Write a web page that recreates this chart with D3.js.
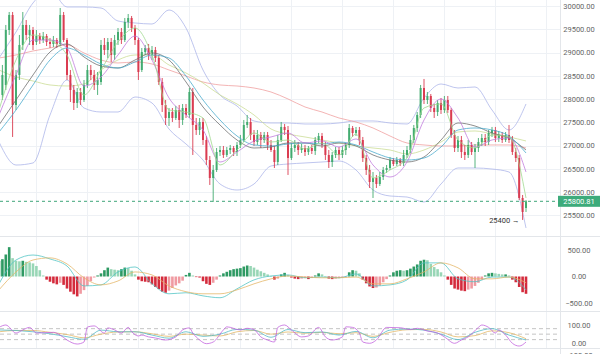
<!DOCTYPE html>
<html>
<head>
<meta charset="utf-8">
<script src="https://cdn.jsdelivr.net/npm/d3@7"></script>
<style>
  body { margin: 0; background: #fff; }
  #chart svg { display: block; font-family: Roboto, "Open Sans", sans-serif; }
</style>
</head>
<body>
<div id="chart"></div>
<script>
// canvas + panels
var svgWidth = 600;
var svgHeight = 354;
var plotRight = 560;

// ---- data ----
// candles [open, high, low, close]
var ohlc = [
  [27549,28517,27442,28194],[28087,28732,27979,28517],[28302,29592,28194,29484],[29484,29871,29377,29807],[29807,29871,27184,27872],
  [27872,28624,27764,28517],[28517,29377,28409,29162],[29162,29871,29054,29592],[29592,29699,29269,29377],[29377,29592,29162,29484],
  [29484,29549,29054,29162],[29226,29484,29162,29355],[29355,29420,29183,29269],[29269,29441,29205,29355],[29355,29398,29140,29226],
  [29226,29312,29097,29183],[29183,29355,29119,29269],[29269,29312,29097,29183],[29183,29957,29140,29807],[29807,29871,29226,29269],
  [29269,29312,28409,28517],[28517,28624,27936,28194],[28194,28302,27764,27915],[27915,28237,27807,28151],[28151,28237,27872,27979],
  [27979,28409,27936,28302],[28302,28732,28237,28624],[28624,28732,28409,28517],[28517,28624,28194,28302],[28302,28581,28087,28409],
  [28366,29269,28302,29162],[29162,29312,28947,29054],[29054,29312,28882,29226],[29226,29312,28796,28947],[28947,29377,28839,29269],
  [29269,29527,29162,29441],[29441,29527,29183,29269],[29269,29742,29226,29656],[29656,29828,29527,29742],[29742,29785,29441,29527],
  [29527,29592,29162,29269],[29269,29312,28409,28581],[28624,29097,28581,29011],[29011,29162,28947,29097],[29097,29183,28839,28947],
  [28947,29140,28839,29054],[29054,29119,28796,28882],[28882,28947,28302,28366],[28366,28452,27721,27872],[27872,27979,27442,27592],
  [27592,27807,27420,27721],[27721,27807,27506,27592],[27592,27850,27549,27764],[27764,27872,27377,27549],[27549,27893,27442,27807],
  [27807,27893,27592,27657],[27657,28237,27592,28151],[28151,28237,26797,27442],[27442,27592,27227,27334],[27334,27592,27227,27506],
  [27506,27592,27012,27119],[27119,27205,26582,26689],[26689,26775,26152,26302],[26302,26582,25786,26474],[26474,26947,26431,26861],
  [26861,26990,26775,26904],[26904,26990,26732,26797],[26797,26969,26754,26904],[26904,27012,26818,26947],[26947,26990,26775,26861],
  [26861,27076,26775,27012],[27012,27227,26947,27119],[27119,27549,27076,27442],[27442,27657,27377,27506],[27506,27592,27119,27227],
  [27227,27334,26990,27076],[27076,27334,27012,27227],[27227,27291,26947,27119],[27119,27291,27055,27227],[27227,27291,26904,27012],
  [27012,27119,26861,26904],[26904,26990,26517,26646],[26646,27227,26582,27119],[27119,27506,27076,27399],[27399,27463,27227,27334],
  [27334,27420,26367,26732],[26732,27055,26689,26947],[26947,27119,26861,27012],[27012,27076,26797,26904],[26904,27033,26840,26947],
  [26947,27012,26775,26861],[26861,26990,26797,26947],[26947,27012,26818,26883],[26883,27184,26797,27119],[27119,27270,27055,27205],
  [27205,27270,26947,27012],[27012,27076,26689,26797],[26797,26904,26517,26646],[26646,26861,26539,26797],[26797,26969,26732,26904],
  [26904,26969,26689,26797],[26797,26990,26732,26904],[26904,27055,26797,27012],[27012,27463,26947,27377],[27377,27420,27184,27270],
  [27270,27399,27205,27334],[27334,27399,27012,27119],[27119,27184,26646,26732],[26732,26797,26367,26474],[26474,26582,26087,26216],
  [26216,26431,25872,26302],[26302,26367,26087,26173],[26173,26431,26130,26324],[26324,26539,26259,26474],[26474,26582,26410,26517],
  [26517,26754,26474,26689],[26689,26732,26560,26603],[26603,26754,26560,26689],[26689,26732,26560,26625],[26625,26904,26560,26797],
  [26797,26990,26732,26904],[26904,27227,26840,27119],[27119,27442,27055,27377],[27377,27721,27291,27657],[27657,28302,27592,28237],
  [28237,28431,27893,27979],[27979,28151,27893,28065],[28065,28108,27721,27807],[27807,27893,27592,27721],[27721,27979,27635,27915],
  [27915,28022,27678,27764],[27764,28065,27700,27979],[27979,28065,27700,27764],[27764,27807,27162,27227],[27227,27334,26861,26947],
  [26947,27205,26861,27119],[27119,27205,26732,26861],[26861,27012,26689,26797],[26797,27119,26732,27012],[27012,27076,26797,26861],
  [26861,27033,26517,26947],[26947,27162,26861,27076],[27076,27248,26990,27162],[27162,27248,26990,27076],[27076,27334,27012,27270],
  [27270,27399,27184,27334],[27334,27399,27076,27162],[27162,27313,27076,27227],[27227,27291,27055,27119],[27119,27291,27076,27227],
  [27227,27442,27055,27119],[27119,27205,26797,26861],[26861,26947,26646,26732],[26732,26797,25829,25872],[25872,25937,25400,25571],
  [25657,25829,25571,25800.81]
];
var lastPrice = 25800.81;
var lowLabel = "25400";
var lowIndex = 154;

// indicator lines, sampled every 5 candles
var lineIdx = [0,5,10,15,20,25,30,35,40,45,50,55,60,65,70,75,80,85,90,95,100,105,110,115,120,125,130,135,140,145,150,155];
var bbUpper = [28882,29441,30065,30344,29979,29979,29957,29678,29635,29613,29914,29527,28624,28087,27850,27528,27485,27485,27463,27463,27485,27528,27528,27485,27463,28022,28323,28237,28259,27764,27334,27893];
var bbLower = [27076,26581,26625,27656,28409,27807,27721,27721,28043,27914,27355,27033,26689,26173,26044,26173,26560,26603,26625,26646,26667,26474,26044,25915,25893,25786,26173,26517,26517,26495,26431,25227];
var maRed = [28882,28947,29033,29097,29162,28990,28839,28775,28796,28753,28624,28495,28366,28302,28280,28237,28151,28001,27829,27721,27592,27506,27377,27205,27055,27012,26990,26990,27012,27012,27012,26947];
var maOlive = [28624,28474,28388,28302,28280,28323,28624,28839,28947,28947,28732,28560,28345,28087,27893,27657,27356,27248,27184,27119,27055,26990,26947,26904,26818,26904,27076,27291,27313,27248,27184,27098];
var maGray = [27442,27979,28517,29011,29183,28904,28710,28667,28839,28990,28839,28366,27829,27442,27119,26947,26969,27055,27055,26990,27055,26990,26797,26689,26646,26754,27119,27485,27420,27270,27162,26904];
var maTeal = [27291,27764,28302,28839,29097,28947,28753,28667,28796,28947,28882,28495,27979,27549,27205,27012,26990,27033,27055,27033,27076,27012,26861,26732,26689,26732,26969,27334,27377,27334,27205,26840];
var maPurple = [27657,28517,29269,29269,29097,28280,28474,28947,29355,28839,28022,27657,27334,26646,26861,27098,27184,27270,27055,27098,26969,27141,26582,26324,26646,27549,28001,27592,26969,27119,27162,26431];
var maGreen = [27764,28839,29377,29269,28947,28087,28624,29226,29527,28947,27764,27721,27592,26582,26904,27270,27076,27119,26926,27055,26797,27248,26302,26474,26732,27807,27893,27119,26947,27227,27184,25872];

// MACD
var macdHist = [
  300,330,420,560,350,300,290,300,280,270,250,200,120,20,-60,-100,-130,-150,-120,-160,
  -230,-290,-340,-380,-330,-260,-180,-90,-20,20,60,120,170,140,130,120,140,170,160,110,
  40,-60,-90,-100,-110,-150,-200,-240,-290,-310,-270,-220,-170,-130,-80,30,70,20,-10,-20,
  -90,-140,-160,-120,-60,20,60,90,120,140,150,160,190,210,200,170,130,100,70,40,
  10,-60,-40,40,70,30,-20,-40,-50,-40,-30,-50,-30,20,60,40,10,-40,-50,-40,
  -30,-20,-10,80,120,110,60,-60,-130,-190,-220,-210,-170,-110,-50,20,80,110,120,110,
  120,150,190,230,300,320,310,240,180,140,80,20,-60,-160,-230,-250,-270,-280,-250,-230,
  -180,-120,-60,20,60,70,60,50,40,40,20,-60,-110,-200,-300,-330
];
var macdLine = [-140,315,410,335,200,-180,-160,87,182,-140,-330,-310,-370,-405,-235,-65,10,30,-25,-10,-25,50,-180,-160,-65,260,260,-45,-100,-10,-10,-255];
var macdSignal = [-255,87,315,355,240,-25,-160,-85,87,30,-180,-290,-330,-330,-255,-140,-45,10,-10,-25,-25,-10,-140,-140,-45,87,260,165,-45,-45,-10,-120];

// KDJ
var kdjK = [73,70,63,52,36,22,72,63,63,45,28,63,38,50,76,72,33,75,58,62,45,65,30,72,78,72,50,20,60,80,45,18];
var kdjD = [63,70,70,60,48,30,50,62,63,52,38,50,45,40,63,70,50,62,55,60,52,58,38,60,74,76,62,35,42,68,58,25];
var kdjJIdx = [0,2,5,7,9,11,16,18,20,23,25,26,28,31,32,34,36,38,39,41,42,44,46,49,52,54,56,57,59,61,63,66,67,71,73,75,77,79,81,82,84,86,89,91,94,96,98,101,102,104,106,107,109,111,114,118,121,123,126,129,131,134,136,138,141,142,144,146,147,149,151,153,155];
var kdjJ = [87,100,56,73,87,56,60,45,18,-4,7,89,95,56,84,73,56,87,64,40,45,35,29,18,35,73,84,56,18,-2,7,73,90,73,82,75,35,18,7,87,100,73,35,40,87,35,18,35,90,87,56,7,0,18,87,85,75,82,67,56,35,0,18,35,87,100,87,56,73,45,0,-15,7];

// ticks
var priceTicks = [25500,26000,26500,27000,27500,28000,28500,29000,29500,30000];
var macdTicks = [500,0,-500];
var kdjTicks = [100,0];
var kdjCutTick = -100;
var kdjLevels = [80,50,20];
var gridIdx = [11,26,41,56,71,86,101,116,131,146,161];

// ---- scales ----
var x = d3.scaleLinear().domain([0, 155]).range([-1, 526]);
var yPrice = d3.scaleLinear().domain([25500, 30000]).range([215.3, 6]);
var yMacd = d3.scaleLinear().domain([-500, 500]).range([302.7, 250.3]);
var yKdj = d3.scaleLinear().domain([0, 100]).range([343.3, 325]);

var svg = d3.select("#chart")
  .append("svg")
  .attr("width", svgWidth)
  .attr("height", svgHeight);

var defs = svg.append("defs");
defs.append("clipPath").attr("id", "clipMain")
  .append("rect").attr("x", 0).attr("y", 0).attr("width", plotRight).attr("height", 236);
defs.append("clipPath").attr("id", "clipMacd")
  .append("rect").attr("x", 0).attr("y", 237).attr("width", plotRight).attr("height", 74);
defs.append("clipPath").attr("id", "clipKdj")
  .append("rect").attr("x", 0).attr("y", 312).attr("width", plotRight).attr("height", 36);

// grid
var grid = svg.append("g");
grid.selectAll(".vg")
  .data(gridIdx)
  .enter()
  .append("line")
  .attr("x1", d => Math.round(x(d)) + 0.5)
  .attr("x2", d => Math.round(x(d)) + 0.5)
  .attr("y1", 0)
  .attr("y2", 348)
  .attr("stroke", "#eef1f5");
grid.selectAll(".hg")
  .data(priceTicks)
  .enter()
  .append("line")
  .attr("x1", 0)
  .attr("x2", plotRight)
  .attr("y1", d => Math.round(yPrice(d)) + 0.5)
  .attr("y2", d => Math.round(yPrice(d)) + 0.5)
  .attr("stroke", "#eef1f5");

// panel separators
[236.5, 311.5, 348.5].forEach(function(yy) {
  svg.append("line").attr("x1", 0).attr("x2", svgWidth).attr("y1", yy).attr("y2", yy)
    .attr("stroke", "#e3e6ea");
});
svg.append("line").attr("x1", plotRight + 0.5).attr("x2", plotRight + 0.5)
  .attr("y1", 0).attr("y2", svgHeight).attr("stroke", "#e3e6ea");

// ---- main panel ----
var mainG = svg.append("g").attr("clip-path", "url(#clipMain)");

function drawLine(g, idx, vals, yScale, color, width) {
  var pts = idx.map((d, i) => ({i: d, v: vals[i]}));
  g.append("path")
    .datum(pts)
    .attr("fill", "none")
    .attr("stroke", color)
    .attr("stroke-width", width || 0.9)
    .attr("stroke-opacity", 0.85)
    .attr("d", d3.line().x(d => x(d.i)).y(d => yScale(d.v)).curve(d3.curveMonotoneX));
}

drawLine(mainG, lineIdx, bbUpper, yPrice, "#aab3e8");
drawLine(mainG, lineIdx, bbLower, yPrice, "#aab3e8");
drawLine(mainG, lineIdx, maRed, yPrice, "#ef9d9d");
drawLine(mainG, lineIdx, maOlive, yPrice, "#c9dc92");

// candles
var up = "#34a565", down = "#d82c43";
var candles = mainG.selectAll(".candle")
  .data(ohlc)
  .enter()
  .append("g")
  .attr("opacity", 0.92);
candles.append("line")
  .attr("x1", (d, i) => x(i))
  .attr("x2", (d, i) => x(i))
  .attr("y1", d => yPrice(d[1]))
  .attr("y2", d => yPrice(d[2]))
  .attr("stroke", d => d[3] >= d[0] ? up : down)
  .attr("stroke-width", 0.9);
candles.append("rect")
  .attr("x", (d, i) => x(i) - 1)
  .attr("width", 2)
  .attr("y", d => yPrice(Math.max(d[0], d[3])))
  .attr("height", d => Math.max(1, Math.abs(yPrice(d[0]) - yPrice(d[3]))))
  .attr("fill", d => d[3] >= d[0] ? up : down);

drawLine(mainG, lineIdx, maGray, yPrice, "#6a6a6a");
drawLine(mainG, lineIdx, maTeal, yPrice, "#45a8cc");
drawLine(mainG, lineIdx, maPurple, yPrice, "#bf78dc");
drawLine(mainG, lineIdx, maGreen, yPrice, "#9dd88a");

// last price line + tag
svg.append("line")
  .attr("x1", 0).attr("x2", plotRight)
  .attr("y1", yPrice(lastPrice)).attr("y2", yPrice(lastPrice))
  .attr("stroke", "#3fa67a")
  .attr("stroke-dasharray", "3,3");
svg.append("rect")
  .attr("x", 558).attr("y", yPrice(lastPrice) - 5.5)
  .attr("width", 42).attr("height", 11)
  .attr("fill", "#3dab7b");
svg.append("text")
  .attr("x", 579).attr("y", yPrice(lastPrice))
  .attr("dy", "0.35em")
  .attr("text-anchor", "middle")
  .attr("font-size", 7.5)
  .attr("fill", "#fff")
  .text(d3.format(".2f")(lastPrice));

// lowest point label
svg.append("text")
  .attr("x", x(lowIndex) - 3)
  .attr("y", yPrice(ohlc[lowIndex][2]))
  .attr("dy", "0.35em")
  .attr("text-anchor", "end")
  .attr("font-size", 7.5)
  .attr("fill", "#333")
  .text(lowLabel + " \u2192");

// ---- MACD panel ----
var macdG = svg.append("g").attr("clip-path", "url(#clipMacd)");
macdG.selectAll(".bar")
  .data(macdHist)
  .enter()
  .append("rect")
  .attr("x", (d, i) => x(i) - 1.3)
  .attr("width", 2.6)
  .attr("y", d => yMacd(Math.max(0, d)))
  .attr("height", d => Math.max(0.6, Math.abs(yMacd(d) - yMacd(0))))
  .attr("fill", function(d, i) {
    var prev = i > 0 ? macdHist[i - 1] : d;
    if (d >= 0) return d >= prev ? "#2e9a63" : "#98d6b6";
    return d <= prev ? "#d42b3c" : "#f09aa1";
  });
drawLine(macdG, lineIdx, macdLine, yMacd, "#4cc3c3");
drawLine(macdG, lineIdx, macdSignal, yMacd, "#e4b464");

// ---- KDJ panel ----
var kdjG = svg.append("g").attr("clip-path", "url(#clipKdj)");
kdjG.selectAll(".lvl")
  .data(kdjLevels)
  .enter()
  .append("line")
  .attr("x1", 0).attr("x2", plotRight)
  .attr("y1", d => yKdj(d)).attr("y2", d => yKdj(d))
  .attr("stroke", "#c4c4c4")
  .attr("stroke-dasharray", "4,3");
drawLine(kdjG, lineIdx, kdjD, yKdj, "#e2b661");
drawLine(kdjG, lineIdx, kdjK, yKdj, "#4db8c4");
drawLine(kdjG, kdjJIdx, kdjJ, yKdj, "#c05ddd");

// ---- right axes ----
function rightAxis(scale, ticks) {
  var g = svg.append("g")
    .attr("transform", `translate(${plotRight}, 0)`)
    .call(d3.axisRight(scale).tickValues(ticks).tickSize(0).tickPadding(19).tickFormat(d3.format(".2f")));
  g.select(".domain").remove();
  g.selectAll("text")
    .attr("text-anchor", "middle")
    .attr("font-size", 7.5)
    .attr("font-family", "Roboto, 'Open Sans', sans-serif")
    .attr("fill", "#666");
  return g;
}
rightAxis(yPrice, priceTicks);
rightAxis(yMacd, macdTicks);
rightAxis(yKdj, kdjTicks);
// the -100 label only peeks in at the bottom edge, as in the reference
svg.append("text")
  .attr("x", 579)
  .attr("y", 358)
  .attr("text-anchor", "middle")
  .attr("font-size", 7.5)
  .attr("fill", "#666")
  .text(d3.format(".2f")(kdjCutTick));
</script>
</body>
</html>
